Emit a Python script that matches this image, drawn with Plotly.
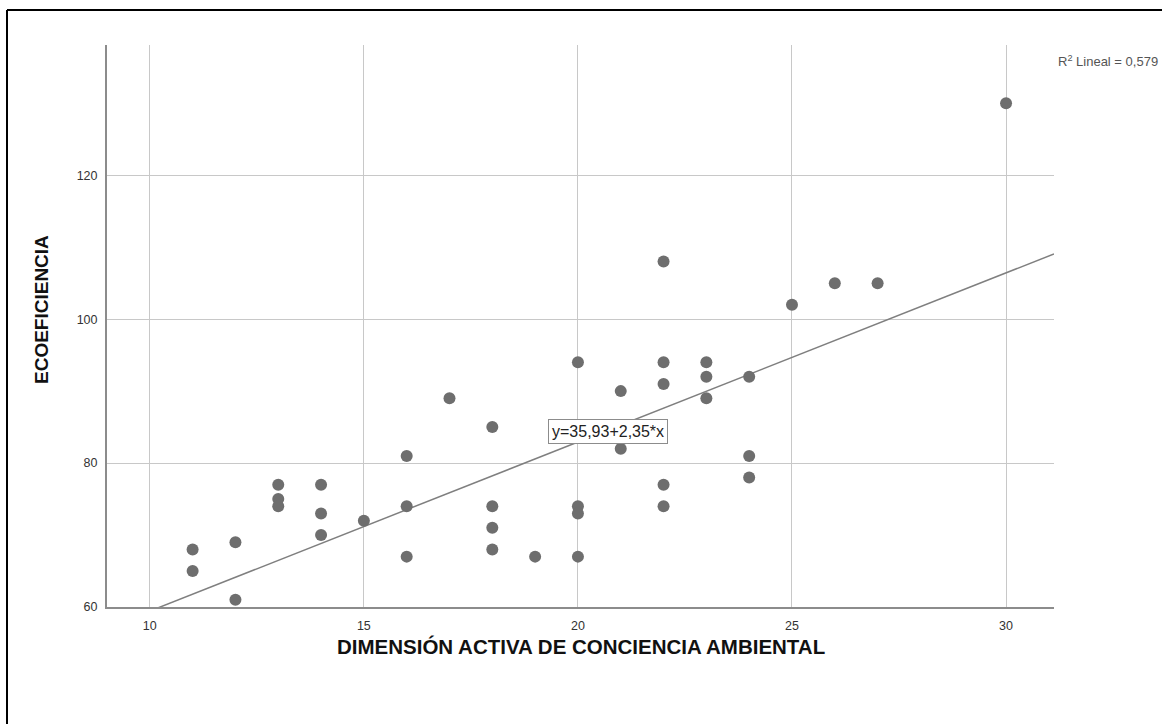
import plotly.graph_objects as go

# Data
x_values = [11, 11, 12, 12, 13, 13, 13, 14, 14, 14, 15, 16, 16, 16, 17,
            18, 18, 18, 18, 19, 20, 20, 20, 20, 21, 21,
            22, 22, 22, 22, 22, 23, 23, 23, 24, 24, 24, 25, 26, 27, 30]
y_values = [68, 65, 69, 61, 77, 75, 74, 77, 73, 70, 72, 81, 74, 67, 89,
            85, 74, 71, 68, 67, 94, 74, 73, 67, 90, 82,
            108, 94, 91, 77, 74, 94, 92, 89, 92, 81, 78, 102, 105, 105, 130]

intercept = 35.93
slope = 2.35
r2_text = "R<sup>2</sup> Lineal = 0,579"
eq_text = "y=35,93+2,35*x"
x_title = "DIMENSIÓN ACTIVA DE CONCIENCIA AMBIENTAL"
y_title = "ECOEFICIENCIA"

x_tick_vals = [10, 15, 20, 25, 30]
y_tick_vals = [60, 80, 100, 120]

x_range = [9.0, 31.12]
y_range = [60, 138.1]

fit_x = [x_range[0], x_range[1]]
fit_y = [intercept + slope * v for v in fit_x]

fig = go.Figure()

fig.add_trace(go.Scatter(
    x=fit_x, y=fit_y, mode="lines",
    line=dict(color="#7f7f7f", width=1.5),
    hoverinfo="skip", showlegend=False,
))

fig.add_trace(go.Scatter(
    x=x_values, y=y_values, mode="markers",
    marker=dict(color="#6e6e6e", size=12, line=dict(width=0)),
    showlegend=False, cliponaxis=False,
))

font_family = "Liberation Sans, Arial, sans-serif"

PL, PT, PW, PH = 107, 45, 947, 562  # plot area in px


def px(x):
    return (x - PL) / PW


def py(y):
    return (PT + PH - y) / PH


fig.update_layout(
    width=1162, height=724,
    margin=dict(l=PL, r=1162 - PL - PW, t=PT, b=724 - PT - PH),
    paper_bgcolor="white", plot_bgcolor="white",
    font=dict(family=font_family, color="#222"),
    xaxis=dict(
        range=x_range, tickvals=x_tick_vals, ticks="",
        showgrid=True, gridcolor="#c8c8c8", gridwidth=1.3,
        showline=True, linecolor="#8c8c8c", linewidth=2,
        zeroline=False, tickfont=dict(size=12.5, color="#333"),
        ticklabelstandoff=6,
    ),
    yaxis=dict(
        range=y_range, tickvals=y_tick_vals, ticks="",
        showgrid=True, gridcolor="#c8c8c8", gridwidth=1.3,
        showline=True, linecolor="#8c8c8c", linewidth=2,
        zeroline=False, tickfont=dict(size=12.5, color="#333"),
        ticklabelstandoff=5,
    ),
    annotations=[
        dict(x=px(581), y=py(646), xref="paper", yref="paper",
             text="<b>" + x_title + "</b>", showarrow=False,
             xanchor="center", yanchor="middle",
             font=dict(size=20.5, color="#111")),
        dict(x=px(41), y=py(310), xref="paper", yref="paper",
             text="<b>" + y_title + "</b>", showarrow=False, textangle=-90,
             xanchor="center", yanchor="middle",
             font=dict(size=19, color="#111")),
        dict(x=20.70, y=84.44, xref="x", yref="y", text=eq_text,
             showarrow=False, font=dict(size=16, color="#222"),
             bgcolor="white", bordercolor="#8c8c8c", borderwidth=1,
             borderpad=3),
        dict(x=px(1056), y=py(51), xref="paper", yref="paper",
             text=r2_text, showarrow=False, xanchor="left", yanchor="top",
             font=dict(size=13, color="#555")),
    ],
    shapes=[
        dict(type="line", xref="paper", yref="paper",
             x0=px(7), x1=px(7), y0=py(10), y1=py(740),
             line=dict(color="black", width=2)),
        dict(type="line", xref="paper", yref="paper",
             x0=px(7), x1=px(1180), y0=py(10), y1=py(10),
             line=dict(color="black", width=2)),
    ],
)

fig.write_html("out.html", config={"displayModeBar": False},
               post_script="document.body.style.margin='0';")
